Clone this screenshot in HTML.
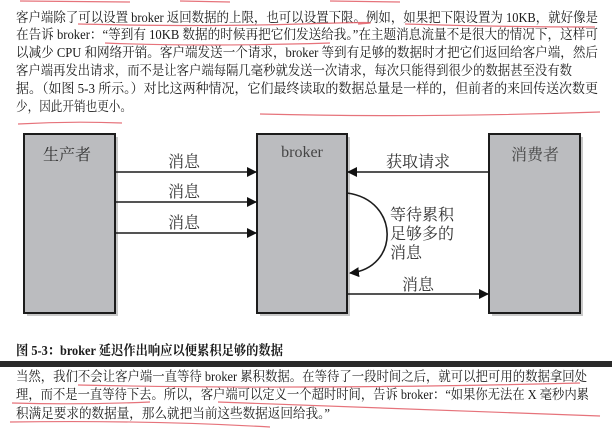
<!DOCTYPE html>
<html><head><meta charset="utf-8"><style>
html,body{margin:0;padding:0;background:#fff;}
svg{display:block;}
.t{font-family:"Liberation Serif","Noto Serif CJK SC",serif;font-size:13.5px;fill:#1a1a1a;}
.l{font-family:"Liberation Serif","Noto Serif CJK SC",serif;font-size:16px;fill:#333;}
.r{fill:none;stroke:#e0505a;stroke-width:1.2;opacity:.8}
</style></head><body>
<svg width="612" height="434" viewBox="0 0 612 434" xmlns="http://www.w3.org/2000/svg">
<defs><marker id="a" markerWidth="10" markerHeight="10" refX="9" refY="5" orient="auto" markerUnits="userSpaceOnUse"><path d="M0,0 L10,5 L0,10 z" fill="#111"/></marker></defs>
<!-- top text -->
<text class="t" x="16" y="22" textLength="582" lengthAdjust="spacingAndGlyphs">客户端除了可以设置 broker 返回数据的上限，也可以设置下限。例如，如果把下限设置为 10KB，就好像是</text>
<text class="t" x="16" y="39" textLength="582" lengthAdjust="spacingAndGlyphs">在告诉 broker：“等到有 10KB 数据的时候再把它们发送给我。”在主题消息流量不是很大的情况下，这样可</text>
<text class="t" x="16" y="57" textLength="582" lengthAdjust="spacingAndGlyphs">以减少 CPU 和网络开销。客户端发送一个请求，broker 等到有足够的数据时才把它们返回给客户端，然后</text>
<text class="t" x="16" y="75" textLength="556" lengthAdjust="spacingAndGlyphs">客户端再发出请求，而不是让客户端每隔几毫秒就发送一次请求，每次只能得到很少的数据甚至没有数</text>
<text class="t" x="16" y="93" textLength="582" lengthAdjust="spacingAndGlyphs">据。（如图 5-3 所示。）对比这两种情况，它们最终读取的数据总量是一样的，但前者的来回传送次数更</text>
<text class="t" x="16" y="111" textLength="116" lengthAdjust="spacingAndGlyphs">少，因此开销也更小。</text>
<path class="r" d="M20,1 L130,2 M180,1 L230,2 M330,1 L400,2"/>
<path class="r" d="M78,24 Q200,27 300,24 T358,24 M405,24 Q500,27 595,27"/>
<path class="r" d="M105,43 Q200,47 330,43"/>
<path class="r" d="M260,114 Q420,118 600,112"/>
<path class="r" d="M18,124 Q70,121 122,123"/>
<!-- boxes -->
<g fill="#c9c9c9"><rect x="27" y="137" width="91" height="179"/><rect x="260" y="137" width="90" height="179"/><rect x="492" y="137" width="91" height="179"/></g>
<g fill="#bbbcbf" stroke="#1c1c1c" stroke-width="2"><rect x="24" y="134" width="91" height="179"/><rect x="257" y="134" width="90" height="179"/><rect x="489" y="134" width="91" height="179"/></g>
<text class="l" x="67" y="160" text-anchor="middle" fill="#555">生产者</text>
<text class="l" x="302" y="157" text-anchor="middle" style="fill:#444">broker</text>
<text class="l" x="535" y="160" text-anchor="middle" style="fill:#444">消费者</text>
<!-- arrows -->
<g stroke="#1c1c1c" stroke-width="1.6" fill="none">
<line x1="115" y1="172" x2="256" y2="172" marker-end="url(#a)"/>
<line x1="115" y1="202" x2="256" y2="202" marker-end="url(#a)"/>
<line x1="115" y1="233" x2="256" y2="233" marker-end="url(#a)"/>
<line x1="489" y1="172" x2="348" y2="172" marker-end="url(#a)"/>
<line x1="347" y1="294" x2="488" y2="294" marker-end="url(#a)"/>
<path d="M347,193 C400,200 400,268 350,273" marker-end="url(#a)"/>
</g>
<g class="l">
<text x="184" y="167" text-anchor="middle">消息</text>
<text x="184" y="197" text-anchor="middle">消息</text>
<text x="184" y="228" text-anchor="middle">消息</text>
<text x="418" y="167" text-anchor="middle">获取请求</text>
<text x="418" y="290" text-anchor="middle">消息</text>
<text x="390" y="220">等待累积</text>
<text x="390" y="239">足够多的</text>
<text x="390" y="258">消息</text>
</g>
<!-- caption -->
<text class="t" x="16" y="355" style="font-weight:bold" textLength="267" lengthAdjust="spacingAndGlyphs">图 5-3：broker 延迟作出响应以便累积足够的数据</text>
<rect x="0" y="361" width="612" height="6" fill="#2a2a2a"/>
<text class="t" x="16" y="381" textLength="571" lengthAdjust="spacingAndGlyphs">当然，我们不会让客户端一直等待 broker 累积数据。在等待了一段时间之后，就可以把可用的数据拿回处</text>
<text class="t" x="16" y="399" textLength="573" lengthAdjust="spacingAndGlyphs">理，而不是一直等待下去。所以，客户端可以定义一个超时时间，告诉 broker：“如果你无法在 X 毫秒内累</text>
<text class="t" x="16" y="418" textLength="314" lengthAdjust="spacingAndGlyphs">积满足要求的数据量，那么就把当前这些数据返回给我。”</text>
<path class="r" d="M78,385 Q300,390 580,383"/>
<path class="r" d="M12,403 Q80,405 150,402 M218,402 Q420,410 600,416"/>
<path class="r" d="M10,422 Q150,420 270,427"/>
</svg>
</body></html>
